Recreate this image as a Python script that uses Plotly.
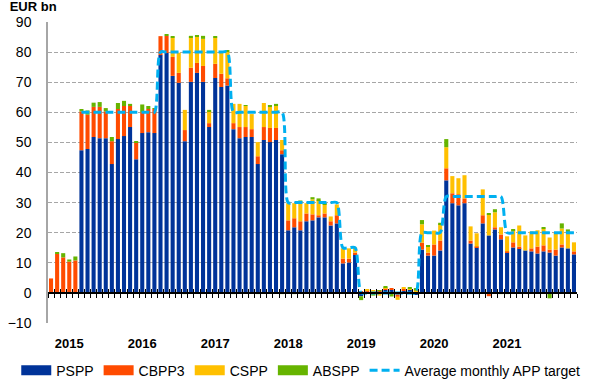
import pandas as pd
import plotly.graph_objects as go

# Monthly categories Oct 2014 - Dec 2021
months = pd.period_range("2014-10", "2021-12", freq="M").strftime("%b %Y").tolist()
year_ticks = ["Jan 2015", "Jan 2016", "Jan 2017", "Jan 2018", "Jan 2019", "Jan 2020", "Jan 2021"]
year_labels = ["2015", "2016", "2017", "2018", "2019", "2020", "2021"]

pspp = [0, 0, 0, 0, 0, 47.4, 47.8, 51.8, 51.4, 51.4, 42.8, 51.1, 52.1, 55.1, 44.4,
        53.1, 53.4, 53.1, 79.0, 79.7, 72.1, 69.8, 50.4, 70.1, 73.1, 70.1, 55.1, 71.4, 68.4, 68.9,
        54.4, 51.4, 51.8, 51.8, 42.8, 50.8, 50.1, 50.8, 46.1,
        20.8, 21.8, 20.8, 23.8, 24.1, 25.1, 25.1, 22.4, 23.1, 9.8, 10.1, 12.8,
        -1.1, 0.3, -0.3, 0.4, 1.0, 1.0, -0.4, 0.6, 1.2, -0.7, 14.4, 12.4,
        12.4, 14.1, 37.4, 29.8, 29.1, 29.8, 16.4, 15.1, 23.1, 19.1, 21.1, 17.8,
        13.4, 15.1, 14.8, 14.1, 13.8, 13.1, 13.8, 13.4, 12.4, 15.1, 14.8, 12.8]
cbpp3 = [4.8, 13.0, 11.8, 10.4, 10.8, 12.9, 11.4, 10.0, 10.4, 8.9, 7.6, 10.0, 10.0, 7.0, 5.7,
         6.9, 7.7, 8.0, 6.3, 5.7, 6.3, 3.3, 3.7, 4.7, 3.3, 5.3, 1.3, 4.7, 4.4, 2.4,
         2.0, 3.7, 3.3, 2.6, 2.6, 4.3, 4.7, 4.0, 1.3,
         3.3, 3.0, 3.0, 2.6, 2.0, 0.7, 1.3, 1.4, 2.7, 1.6, 1.3, 0.6,
         0.4, 0.4, 0.5, 0.3, 0.6, 0.3, -0.9, 0.8, -0.3, 0.5, 2.3, 1.0,
         3.7, 3.3, 4.0, 3.3, 3.7, 1.6, 1.0, 0.3, 2.7, -1.1, 0.7, 1.6,
         0.4, 1.7, 0.6, 0.0, 1.0, 2.3, 2.0, 1.0, 2.0, 1.0, -0.3, 1.0]
cspp = [0, 0, 0, 0, 0, 0, 0, 0, 0, 0, 0, 0, 0, 0, 0,
        0, 0, 0, 0, 0, 6.4, 6.7, 6.7, 10.0, 8.7, 9.0, 4.0, 8.7, 7.0, 8.7,
        6.4, 7.7, 7.0, 5.0, 4.7, 8.0, 7.0, 7.3, 3.4,
        5.7, 5.0, 6.2, 3.4, 5.0, 5.0, 3.0, 1.6, 3.6, 3.4, 3.4, 1.7,
        0.0, 0.6, 0.2, -0.9, 0.3, -0.2, -1.0, 0.4, 0.3, 0.3, 6.1, 1.9,
        4.6, 5.4, 7.0, 5.7, 5.3, 7.7, 4.7, 4.4, 8.6, 7.0, 5.0, 2.4,
        5.0, 4.0, 7.0, 5.0, 5.6, 5.4, 5.6, 4.0, 5.7, 5.3, 5.0, 3.0]
abspp = [0, 0.4, 1.4, 0.7, 1.3, 0.8, 1.4, 1.4, 1.6, 1.1, 1.4, 2.0, 1.7, 0.7, 0.3,
         2.6, 1.0, 0.3, -0.3, 0.5, 0.3, -0.2, -0.4, 0.6, 0.3, 1.0, 0.4, 0.3, 0.3, 0.7,
         -0.4, -0.2, 0.3, -0.2, -0.4, -0.2, 0.6, 0.7, -0.4,
         -0.2, -0.4, 0.7, -0.2, 0.7, 0.6, 0.4, -0.3, -0.3, -0.3, -0.2, -0.3,
         -1.3, -0.2, -0.6, 0.2, 0.2, -1.0, 0.2, -0.3, 0.4, 0.8, 1.4, 0.3,
         -0.3, 0.5, 2.7, -0.3, -0.3, -0.3, -0.2, -0.2, -0.3, 0.3, 1.0, -0.4,
         -0.4, 0.3, -0.3, -0.2, -0.3, -0.2, 0.4, -1.8, -0.2, 1.7, 1.3, -0.3]
target = [None] * 5 + [60] * 13 + [80] * 12 + [60] * 9 + [30] * 9 + [15] * 3 + \
         [0] * 10 + [20] * 4 + [32] * 10 + [20] * 12

series = [("PSPP", pspp, "#003399"), ("CBPP3", cbpp3, "#FF4B00"),
          ("CSPP", cspp, "#FFC000"), ("ABSPP", abspp, "#66B400")]
target_color = "#00B0F0"
FONT = "Liberation Sans"

fig = go.Figure()
for name, vals, col in series:
    fig.add_trace(go.Bar(x=months, y=vals, name=name, marker_color=col,
                         marker_line_width=0, showlegend=False))
# legend proxies (wide rectangles)
for name, vals, col in series:
    fig.add_trace(go.Scatter(x=[None], y=[None], mode="lines", name=name,
                             line=dict(color=col, width=10)))
fig.add_trace(go.Scatter(x=months, y=target, mode="lines", name="Average monthly APP target",
                         xaxis="x2", line=dict(color=target_color, width=3, dash="8px,4px",
                                               shape="spline", smoothing=0.8)))
fig.add_trace(go.Scatter(x=months, y=[None] * len(months), mode="lines", xaxis="x3",
                         showlegend=False, hoverinfo="skip"))

common = dict(type="category", categoryorder="array", categoryarray=months,
              range=[-0.5, len(months) - 0.5], automargin=False)
fig.update_layout(
    width=603, height=381,
    margin=dict(l=48, r=26, t=22, b=58, autoexpand=False),
    paper_bgcolor="white", plot_bgcolor="white",
    barmode="relative", bargap=0.33,
    font=dict(family=FONT, size=14, color="black"),
    title=dict(text="<b>EUR bn</b>", x=0.016, xref="container", xanchor="left",
               y=0.995, yref="container", yanchor="top", font=dict(size=13, family=FONT)),
    xaxis=dict(**common, tickmode="array", tickvals=year_ticks, ticktext=year_labels,
               ticks="outside", ticklen=8, tickcolor="rgba(0,0,0,0)",
               tickfont=dict(size=13, family=FONT, color="black", weight="bold"),
               showgrid=False, showline=False, zeroline=False),
    xaxis2=dict(**common, overlaying="x", anchor="free", position=0.1,
                tickmode="array", tickvals=months, tickson="boundaries",
                ticks="outside", ticklen=4, tickcolor="black", tickwidth=1,
                showticklabels=False, showgrid=False, showline=True,
                linecolor="black", linewidth=1.5, zeroline=False),
    xaxis3=dict(**common, overlaying="x", anchor="free", position=0.1,
                tickmode="array", tickvals=months, tickson="boundaries",
                ticks="inside", ticklen=4, tickcolor="black", tickwidth=1,
                showticklabels=False, showgrid=False, showline=False, zeroline=False),
    yaxis=dict(range=[-10, 90], dtick=10, tick0=0, showgrid=True, gridcolor="#A6A6A6",
               gridwidth=1, griddash="4px,2px", zeroline=False, showline=True,
               linecolor="#A6A6A6", linewidth=1.5, ticks="outside", ticklen=12,
               tickcolor="rgba(0,0,0,0)", tickfont=dict(size=14, color="black"),
               automargin=False),
    legend=dict(orientation="h", x=-0.06, y=-0.105, xanchor="left", yanchor="top",
                font=dict(size=14), itemwidth=30, tracegroupgap=0,
                bgcolor="rgba(0,0,0,0)"),
)
fig.write_html("out.html", config={"displayModeBar": False},
               post_script="document.body.style.margin='0';document.body.style.padding='0';")
